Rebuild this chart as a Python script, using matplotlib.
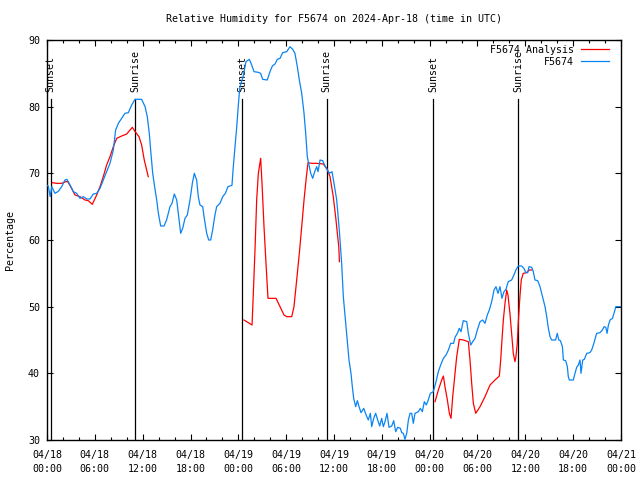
import matplotlib

matplotlib.use("Agg")

import matplotlib.pyplot as plt
import numpy as np

# hours since 2024-04-18 00:00 UTC
obs_hours = [
    0.0, 0.16, 0.4, 0.6, 1.0, 1.42, 1.84, 2.26, 2.5, 2.89, 3.3, 3.72, 4.14, 4.56, 4.98,
    5.39, 5.81, 6.23, 6.65, 7.06, 7.48, 7.9, 8.32, 8.61, 8.95, 9.37, 9.78, 10.2, 10.62,
    11.04, 11.87, 12.3, 12.58, 12.83, 13.0, 13.26, 13.5, 13.76, 13.97, 14.26, 14.68,
    15.0, 15.43, 15.68, 15.97, 16.27, 16.47, 16.77, 17.02, 17.31, 17.6, 17.94, 18.23,
    18.48, 18.77, 18.98, 19.19, 19.53, 19.73, 20.03, 20.28, 20.53, 20.78, 21.03, 21.28,
    21.7, 22.04, 22.37, 22.7, 23.2, 23.37, 23.58, 23.8, 24.05, 24.2, 24.6, 24.96, 25.38,
    25.68, 25.97, 26.5, 26.8, 27.05, 27.63, 27.97, 28.27, 28.6, 28.89, 29.23, 29.56,
    30.07, 30.48, 30.82, 31.1, 31.4, 31.65, 31.95, 32.24, 32.45, 32.65, 32.9, 33.08,
    33.33, 33.58, 33.83, 34.0, 34.25, 34.58, 34.91, 35.16, 35.42, 35.75, 36.0, 36.34,
    36.68, 36.96, 37.17, 37.47, 37.72, 37.88, 38.13, 38.3, 38.47, 38.72, 38.93, 39.14,
    39.39, 39.73, 39.98, 40.3, 40.56, 40.73, 40.98, 41.23, 41.48, 41.73, 41.98, 42.19,
    42.4, 42.65, 42.9, 43.24, 43.49, 43.74, 43.99, 44.32, 44.5, 44.7, 44.9, 45.12,
    45.33, 45.54, 45.75, 45.95, 46.16, 46.58, 46.83, 47.08, 47.33, 47.58, 47.83, 48.08,
    48.46, 48.8, 49.09, 49.38, 49.72, 50.05, 50.35, 50.64, 51.0, 51.18, 51.47, 51.72,
    51.93, 52.22, 52.65, 52.85, 53.15, 53.4, 53.69, 53.98, 54.32, 54.65, 54.94, 55.23,
    55.48, 55.78, 56.07, 56.32, 56.57, 56.82, 57.07, 57.32, 57.57, 57.86, 58.28, 58.57,
    58.82, 59.11, 59.53, 59.82, 60.07, 60.3, 60.46, 60.8, 61.0, 61.21, 61.55, 61.84,
    62.05, 62.26, 62.47, 62.68, 62.89, 63.1, 63.3, 63.8, 64.0, 64.2, 64.4, 64.65, 64.77,
    65.06, 65.27, 65.39, 65.52, 66.02, 66.23, 66.44, 66.65, 66.86, 66.98, 67.2, 67.4,
    67.7, 68.1, 68.32, 68.53, 68.74, 68.95, 69.37, 69.66, 69.88, 70.09, 70.25, 70.42,
    70.63, 70.93, 71.18, 71.35, 72.0,
]
obs_rh = [
    68.2, 68.1, 66.5, 68.0, 67.0, 67.3, 68.0, 69.0, 69.1, 68.25, 67.25, 67.0, 66.25, 66.5, 66.15,
    66.15, 66.9, 67.0, 67.75, 69.0, 70.25, 71.5, 73.5, 76.5, 77.5, 78.25, 79.0, 79.1, 80.25,
    81.1, 81.1, 80.0, 78.5, 76.0, 73.5, 70.0, 68.0, 66.0, 64.0, 62.1, 62.1,
    63.0, 65.0, 65.5, 66.9, 66.0, 64.0, 61.0, 61.75, 63.25, 63.75, 66.0, 68.5,
    70.0, 69.0, 66.5, 65.25, 65.0, 63.25, 61.0, 60.0, 60.0, 61.5, 63.5, 65.0,
    65.5, 66.5, 67.0, 68.0, 68.2, 71.0, 74.0, 77.0, 81.0, 83.0, 84.5, 86.75, 87.1,
    86.25, 85.25, 85.15, 85.0, 84.1, 84.0, 85.25, 86.1, 86.4, 87.1, 87.25, 88.1,
    88.25, 89.0, 88.6, 88.0, 86.0, 84.0, 82.0, 79.0, 76.0, 72.5, 71.0, 70.0,
    69.25, 70.25, 71.0, 70.25, 72.0, 71.9, 71.0, 70.5, 70.0, 70.25, 68.5, 66.0,
    61.25, 56.5, 51.5, 47.5, 44.0, 42.0, 40.0, 38.0, 36.25, 35.0, 35.9, 35.0,
    34.1, 34.75, 33.9, 33.0, 34.0, 32.0, 33.25, 34.0, 33.0, 32.1, 33.25, 32.0,
    32.75, 34.0, 31.9, 32.1, 32.9, 31.25, 31.9, 31.75, 31.1, 31.0, 30.1, 31.0,
    33.0, 34.0, 34.0, 32.5, 34.0, 34.25, 34.75, 34.25, 35.75, 35.25, 36.0, 37.0,
    37.25, 38.75, 40.25, 41.25, 42.25, 42.75, 43.5, 44.5, 44.5, 45.4, 46.0, 46.75,
    46.25, 47.9, 47.75, 46.0, 44.25, 44.75, 45.25, 46.5, 47.75, 48.0, 47.5, 48.75,
    49.5, 50.75, 52.5, 53.0, 52.0, 53.0, 51.25, 52.25, 52.6, 53.75, 54.0, 54.75,
    55.5, 56.1, 56.1, 55.75, 55.1, 55.1, 56.0, 55.9, 55.25, 54.0, 53.9, 53.0,
    52.0, 51.0, 50.0, 48.5, 46.75, 45.5, 45.0, 45.0, 46.0, 45.0, 44.9, 44.0, 42.0,
    41.9, 41.0, 39.5, 39.0, 39.0, 40.0, 40.9, 41.25, 42.0, 40.0, 42.0, 42.1,
    43.0, 43.1, 43.5, 44.25, 45.1, 46.0, 46.1, 46.5, 47.0, 46.9, 46.0, 47.25,
    48.0, 48.25, 49.25, 50.0, 50.0,
]

# analysis series, NaN marks the gaps between runs
ana_hours = [
    0.67, 1.21, 1.84, 2.34, 2.6, 3.09, 3.51, 4.14, 4.77, 5.18, 5.68, 6.23, 6.65, 7.06,
    7.48, 7.9, 8.32, 8.74, 9.37, 10.0, 10.7, 11.12, 11.54, 11.87, 12.2, 12.5, 12.7,
    12.71,
    24.71, 25.25, 25.72, 25.88, 26.09, 26.3, 26.51, 26.8, 26.97, 27.22, 27.47, 27.72,
    28.19, 28.73, 29.23, 29.73, 30.07, 30.7, 30.98, 31.32, 31.65, 31.95, 32.24, 32.49,
    32.74, 33.2, 33.83, 34.66, 35.16, 35.5, 35.91, 36.25, 36.42, 36.6, 36.68,
    36.69,
    48.67, 49.09, 49.51, 49.72, 49.92, 50.22, 50.47, 50.68, 50.89, 51.18, 51.39, 51.72,
    52.22, 52.85, 53.06, 53.27, 53.48, 53.78, 54.32, 54.94, 55.57, 56.2, 56.74, 56.91,
    57.07, 57.24, 57.45, 57.66, 57.82, 58.07, 58.28, 58.49, 58.7, 58.82, 58.99, 59.11,
    59.32, 59.49, 59.74, 60.15, 60.5, 60.8,
]
ana_rh = [
    68.6, 68.5, 68.5, 68.75, 68.75, 67.75, 66.75, 66.5, 66.0, 65.9, 65.35, 66.75, 68.0, 69.5,
    71.25, 72.5, 74.0, 75.25, 75.6, 75.9, 76.9, 76.15, 75.5, 74.25, 72.0, 70.5, 69.5,
    np.nan,
    48.0, 47.6, 47.25, 52.0, 58.5, 66.0, 70.0, 72.25, 68.5, 62.0, 56.5, 51.25,
    51.25, 51.25, 50.0, 48.75, 48.5, 48.5, 50.0, 54.0, 58.0, 62.0, 66.0, 69.0,
    71.6, 71.5, 71.5, 71.4, 70.6, 69.5, 66.5, 63.0, 61.0, 59.0, 56.75,
    np.nan,
    35.75, 37.5, 39.0, 39.6, 38.0, 36.0, 34.0, 33.25, 36.5, 40.0, 42.5, 45.1,
    45.0, 44.75, 42.0, 38.5, 35.5, 34.0, 35.0, 36.5, 38.25, 39.0, 39.6, 42.0,
    45.0, 48.0, 50.5, 52.5, 51.75, 49.0, 46.0, 43.0, 41.75, 42.5, 44.5, 47.5,
    51.5, 54.0, 55.0, 55.1, 55.5, 55.5,
]

sun_hours = [0.47, 11.08, 24.48, 35.06, 48.45, 59.1]
sun_labels = ["Sunset", "Sunrise", "Sunset", "Sunrise", "Sunset", "Sunrise"]

tick_hours = list(range(0, 73, 6))
tick_labels = [
    "04/18\n00:00", "04/18\n06:00", "04/18\n12:00", "04/18\n18:00",
    "04/19\n00:00", "04/19\n06:00", "04/19\n12:00", "04/19\n18:00",
    "04/20\n00:00", "04/20\n06:00", "04/20\n12:00", "04/20\n18:00",
    "04/21\n00:00",
]

RED = "#ff0000"
BLUE = "#0a84f4"
FONT = "DejaVu Sans Mono"
FS = 7.2

plt.rcParams["font.family"] = FONT
plt.rcParams["font.size"] = FS

fig = plt.figure(figsize=(6.4, 4.8), dpi=100)
ax = fig.add_axes([47 / 640, 40 / 480, 574 / 640, 400 / 480])

for h, lab in zip(sun_hours, sun_labels):
    ax.plot([h, h], [30, 81.2], color="black", lw=0.9, zorder=1)
    ax.text(h, 82.2, lab, rotation=90, ha="center", va="bottom", fontsize=FS)

ax.plot(ana_hours, ana_rh, color=RED, lw=0.9, zorder=2)
ax.plot(obs_hours, obs_rh, color=BLUE, lw=0.9, zorder=3)

ax.set_xlim(0, 72)
ax.set_ylim(30, 90)
ax.set_xticks(tick_hours)
ax.set_xticklabels(tick_labels)
ax.set_xticks(range(0, 73, 2), minor=True)
ax.set_yticks(range(30, 91, 10))
ax.tick_params(which="both", direction="in", top=True, right=True, width=0.8)
ax.tick_params(which="major", length=4.5)
ax.tick_params(which="minor", length=2.5)
ax.tick_params(axis="x", pad=7)
ax.tick_params(axis="y", pad=5)
for lbl in ax.get_xticklabels():
    lbl.set_linespacing(1.55)
for sp in ax.spines.values():
    sp.set_linewidth(1.0)

ax.set_ylabel("Percentage")
ax.yaxis.set_label_coords(-0.056, 0.5)

# gnuplot style legend, text right aligned before the sample line
ax.text(0.918, 0.975, "F5674 Analysis", transform=ax.transAxes, ha="right", va="center")
ax.plot([0.930, 0.979], [0.9775, 0.9775], transform=ax.transAxes, color=RED, lw=0.9)
ax.text(0.918, 0.944, "F5674", transform=ax.transAxes, ha="right", va="center")
ax.plot([0.930, 0.979], [0.9465, 0.9465], transform=ax.transAxes, color=BLUE, lw=0.9)

fig.text(334 / 640, 1 - 19 / 480, "Relative Humidity for F5674 on 2024-Apr-18 (time in UTC)",
         ha="center", va="center")

fig.savefig("out.png", dpi=100)
plt.close(fig)
